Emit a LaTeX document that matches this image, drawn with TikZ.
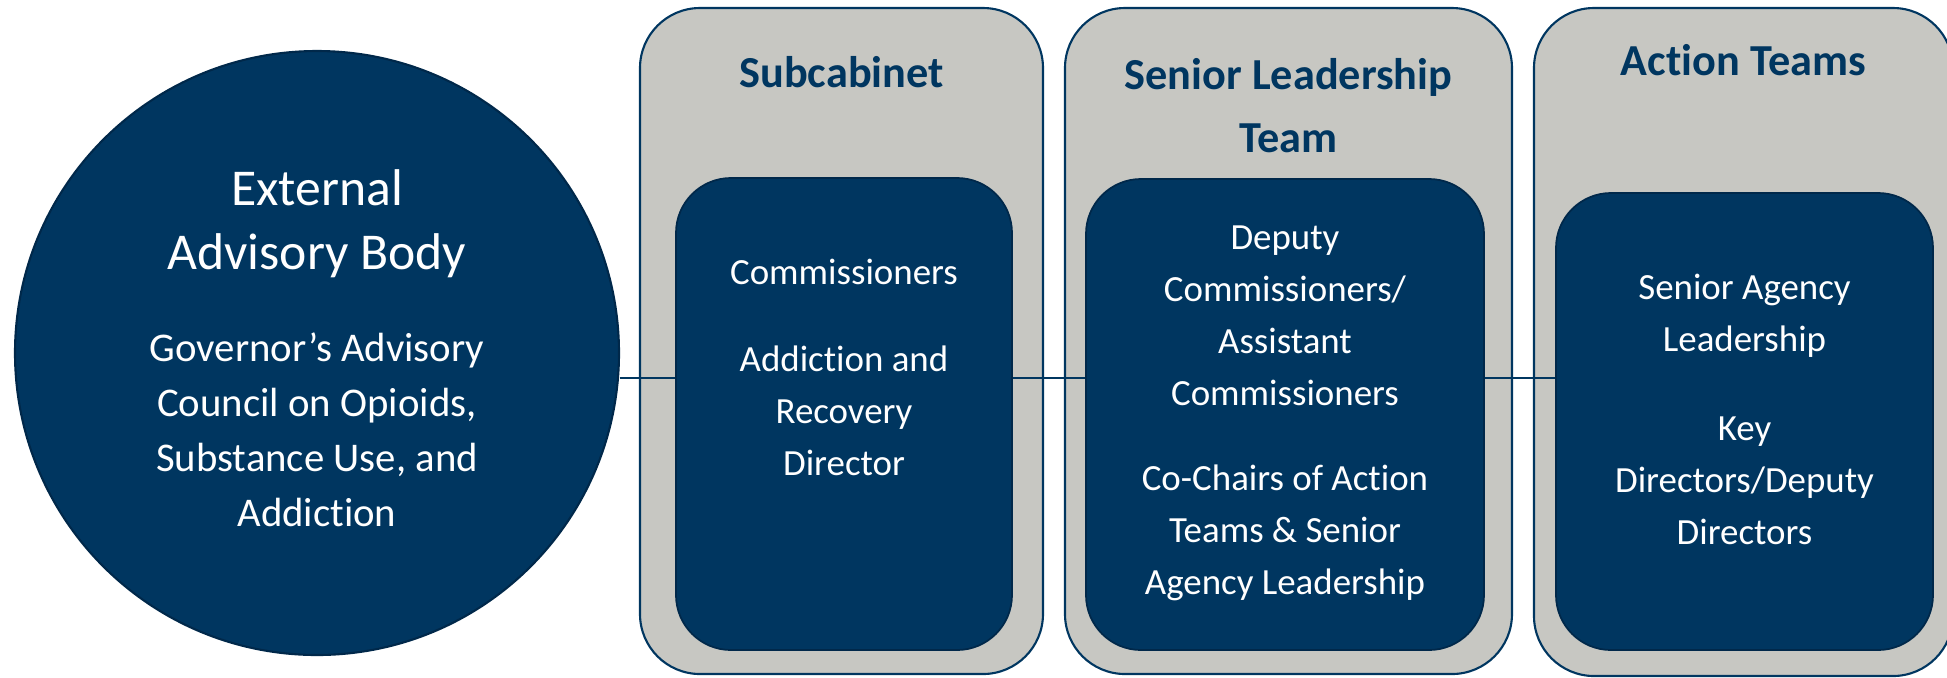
\documentclass[tikz,border=0pt]{standalone}
\usepackage{fontspec}
\setmainfont{Carlito}[Ligatures={TeX,NoCommon}]
\usepackage{tikz}
\usetikzlibrary{positioning}
\definecolor{govnavy}{HTML}{003660}
\definecolor{govnavydark}{HTML}{00284A}
\definecolor{govgray}{HTML}{C7C7C2}

\begin{document}
\begin{tikzpicture}[
    every node/.style={align=center},
    advisory/.style={circle,draw=govnavydark,line width=0.6pt,fill=govnavy,
                     minimum size=6.04cm,inner sep=0pt},
    panel/.style={draw=govnavy,line width=0.6pt,fill=govgray,
                  rounded corners=6mm,inner sep=0pt},
    core/.style={draw=govnavydark,line width=0.5pt,fill=govnavy,
                 rounded corners=5.5mm,inner sep=0pt},
    head/.style={text=govnavy,font=\fontsize{12.6}{17.9}\selectfont\bfseries},
    bighead/.style={text=white,font=\fontsize{14.7}{18.1}\selectfont},
    member/.style={text=white,font=\fontsize{10.5}{14.8}\selectfont},
    advmember/.style={text=white,font=\fontsize{11.6}{15.6}\selectfont},
    link/.style={draw=govnavy,line width=0.6pt}
]
\useasboundingbox (0,0) rectangle (19.47,-6.77);

% the three groups
\node[panel,minimum width=4.03cm,minimum height=6.66cm] (subOut) at (8.415,-3.41) {};
\node[panel,minimum width=4.47cm,minimum height=6.66cm] (sltOut) at (12.885,-3.41) {};
\node[panel,minimum width=4.19cm,minimum height=6.68cm] (actOut) at (17.435,-3.42) {};

\node[core,minimum width=3.36cm,minimum height=4.72cm] (subIn) at (8.44,-4.14) {};
\node[core,minimum width=3.98cm,minimum height=4.71cm] (sltIn) at (12.85,-4.145) {};
\node[core,minimum width=3.77cm,minimum height=4.57cm] (actIn) at (17.445,-4.215) {};

% external body
\node[advisory] (body) at (3.17,-3.53) {};
\node[bighead] (bodyHead) at (body |- 0,-2.24) {External\\Advisory Body};
\node[advmember] (bodyText) at (body |- 0,-4.30)
    {Governor’s Advisory\\Council on Opioids,\\Substance Use, and\\Addiction};

% group titles
\node[head] (subHead) at (subOut |- 0,-0.72) {Subcabinet};
\node[head] (sltHead) at (sltOut |- 0,-1.055) {Senior Leadership\\Team};
\node[head] (actHead) at (actOut |- 0,-0.60) {Action Teams};

% members
\node[member] (subTop) at (subIn |- 0,-2.72) {Commissioners};
\node[member] (subBottom) at (subIn |- 0,-4.11) {Addiction and\\Recovery\\Director};
\node[member] (sltTop) at (sltIn |- 0,-3.16)
    {Deputy\\Commissioners/\\Assistant\\Commissioners};
\node[member] (sltBottom) at (sltIn |- 0,-5.33)
    {Co-Chairs of Action\\Teams \& Senior\\Agency Leadership};
\node[member] (actTop) at (actIn |- 0,-3.16) {Senior Agency\\Leadership};
\node[member] (actBottom) at (actIn |- 0,-4.81) {Key\\Directors/Deputy\\Directors};

% connecting line
\coordinate (wire) at (0,-3.78);
\draw[link] (wire -| body.east) -- (wire -| subIn.west);
\draw[link] (wire -| subIn.east) -- (wire -| sltIn.west);
\draw[link] (wire -| sltIn.east) -- (wire -| actIn.west);
\end{tikzpicture}
\end{document}
